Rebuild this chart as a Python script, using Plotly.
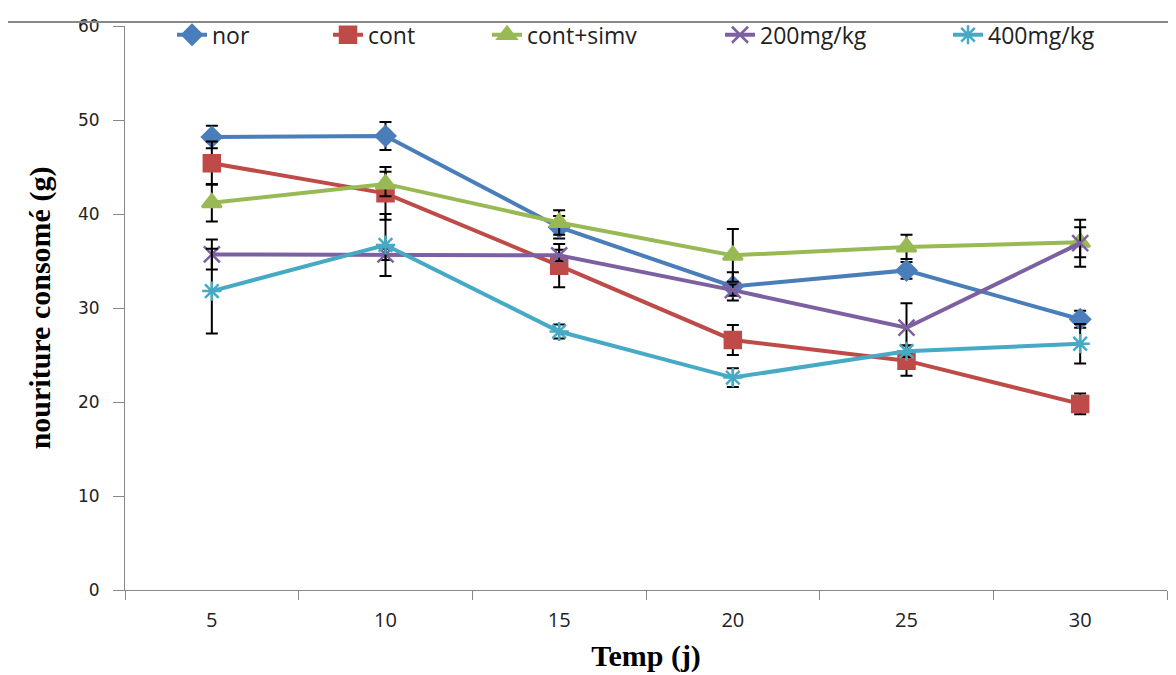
import plotly.graph_objects as go

days = [5, 10, 15, 20, 25, 30]
tick_labels = ["5", "10", "15", "20", "25", "30"]

nor = [48.2, 48.3, 38.6, 32.3, 34.0, 28.8]
nor_err = [1.2, 1.5, 1.2, 1.5, 0.9, 0.9]

cont = [45.4, 42.2, 34.5, 26.6, 24.4, 19.8]
cont_err = [2.3, 2.8, 2.3, 1.6, 1.6, 1.1]

cont_simv = [41.2, 43.2, 39.1, 35.6, 36.5, 37.0]
cont_simv_err = [2.0, 1.3, 1.3, 2.8, 1.3, 1.6]

mg200 = [35.7, 35.7, 35.6, 31.9, 27.9, 36.9]
mg200_err = [1.6, 0.6, 0.6, 0.6, 2.6, 2.5]

mg400 = [31.8, 36.7, 27.5, 22.6, 25.4, 26.2]
mg400_err = [4.5, 3.3, 0.75, 1.0, 0.6, 2.1]

series = [
    ("nor", nor, nor_err, "#4A7EBB", "diamond", 15),
    ("cont", cont, cont_err, "#BE4B48", "square", 16),
    ("cont+simv", cont_simv, cont_simv_err, "#98B954", "triangle-up", 17),
    ("200mg/kg", mg200, mg200_err, "#7D60A0", "x-thin-open", 16),
    ("400mg/kg", mg400, mg400_err, "#46AAC5", "asterisk-open", 16),
]

T_MARGIN, B_MARGIN = 5, 93
PL, PW = 125, 1042
PH = 675 - T_MARGIN - B_MARGIN
legend_text_x = [217, 373, 532, 765, 993]
legend_names = ["legend", "legend2", "legend3", "legend4", "legend5"]

fig = go.Figure()
for (name, vals, errs, color, sym, size), lg in zip(series, legend_names):
    fig.add_trace(go.Scatter(
        x=days, y=vals, name=name, mode="lines+markers",
        line=dict(color=color, width=4),
        marker=dict(symbol=sym, size=size, color=color,
                    line=dict(color=color, width=2.5)),
        error_y=dict(type="data", array=errs, visible=True,
                     color="black", thickness=2, width=6),
        legend=lg,
    ))

fig.add_shape(type="line", xref="paper", yref="paper",
              x0=-118 / PW, x1=1.2,
              y0=1 + (T_MARGIN - 1) / PH, y1=1 + (T_MARGIN - 1) / PH,
              line=dict(color="#888888", width=2))
fig.add_shape(type="line", xref="paper", yref="paper",
              x0=-118 / PW, x1=-118 / PW,
              y0=1 + (T_MARGIN - 1) / PH, y1=-0.3,
              line=dict(color="#888888", width=2))

legend_font = dict(family="Open Sans, sans-serif", size=23, color="#222222")
leg_layout = {}
for lg, tx in zip(legend_names, legend_text_x):
    leg_layout[lg] = dict(
        x=(tx - 45 - PL) / PW, y=1 - 9 / PH,
        xanchor="left", yanchor="middle", orientation="h",
        font=legend_font, bgcolor="rgba(0,0,0,0)", borderwidth=0,
    )

fig.update_layout(
    width=1176, height=675,
    paper_bgcolor="white", plot_bgcolor="white",
    margin=dict(l=117, r=17, t=T_MARGIN, b=B_MARGIN),
    showlegend=True,
    **leg_layout,
    xaxis=dict(
        range=[2.5, 32.5], tickmode="array", tickvals=days, ticktext=tick_labels,
        ticks="", showgrid=False, zeroline=False,
        showline=True, linecolor="#888888", linewidth=1,
        ticklabelstandoff=12,
        tickfont=dict(family="Open Sans, sans-serif", size=20, color="#222222"),
        minor=dict(tickmode="array", tickvals=[2.5, 7.5, 12.5, 17.5, 22.5, 27.5, 32.5],
                   ticks="outside", ticklen=9, tickcolor="#888888", showgrid=False),
        title=dict(text="<b>Temp (j)</b>", standoff=12,
                   font=dict(family="Liberation Serif, Times New Roman, serif",
                             size=30, color="black")),
    ),
    yaxis=dict(
        range=[0, 60], tickmode="array", tickvals=[0, 10, 20, 30, 40, 50, 60],
        ticks="outside", ticklen=11, tickcolor="#888888",
        ticklabelstandoff=10,
        showgrid=False, zeroline=False,
        showline=True, linecolor="#888888", linewidth=1,
        tickfont=dict(family="DejaVu Sans, Verdana, sans-serif",
                      size=17, color="#222222"),
        title=dict(text="<b>nouriture consomé (g)</b>", standoff=18,
                   font=dict(family="Liberation Serif, Times New Roman, serif",
                             size=30, color="black")),
    ),
)

fig.write_html("out.html")
